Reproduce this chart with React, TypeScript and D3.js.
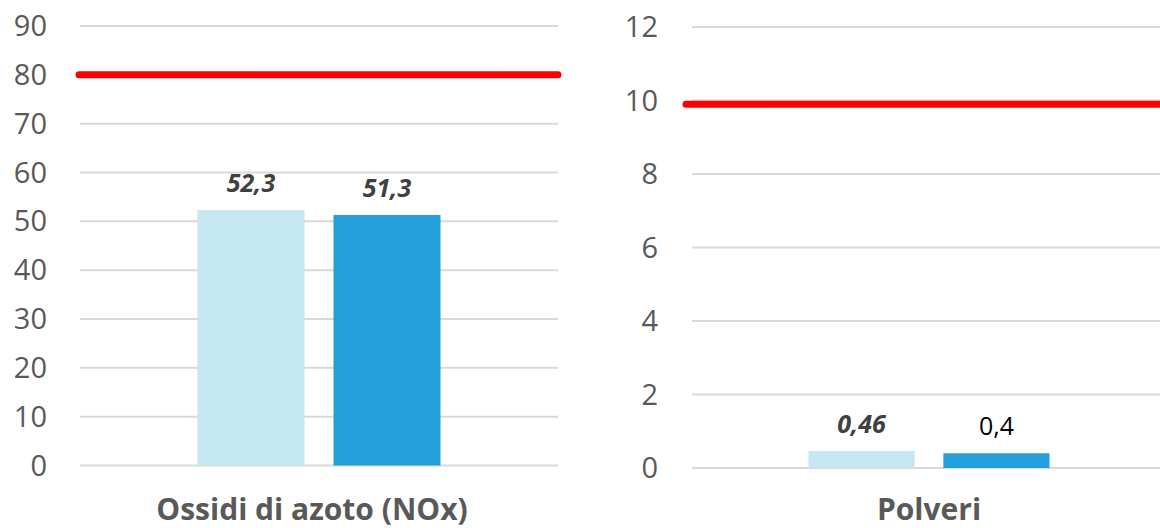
import * as d3 from "d3";

const categories = ["Ossidi di azoto (NOx)", "Polveri"];
const seriesA = [52.3, 0.46]; // light bars
const seriesB = [51.3, 0.4]; // dark bars
const labelsA = ["52,3", "0,46"];
const labelsB = ["51,3", "0,4"];
const limits = [80, 9.9]; // red limit lines
const yMax = [90, 12];
const yStep = [10, 2];

const font = "'Open Sans', 'Noto Sans', sans-serif";
const gridColor = "#d9d9d9";
const textColor = "#595959";

type PanelProps = {
  i: number;
  x0: number;
  x1: number;
  yBottom: number;
  yTop: number;
  redX0: number;
  redX1: number;
  labelX: number;
  boldB: boolean;
};

function Panel({ i, x0, x1, yBottom, yTop, redX0, redX1, labelX, boldB }: PanelProps) {
  const y = d3.scaleLinear().domain([0, yMax[i]]).range([yBottom, yTop]);
  const ticks = d3.range(0, yMax[i] + yStep[i] / 2, yStep[i]);
  const band = d3.scaleBand().domain([categories[i]]).range([x0, x1]);
  const inner = d3
    .scaleBand()
    .domain(["a", "b"])
    .range([0, band.bandwidth()])
    .paddingInner(0.213)
    .paddingOuter(0.864);
  const bx = band(categories[i])!;
  const bars = [
    { key: "a", v: seriesA[i], label: labelsA[i], fill: "#c5e7f2", bold: true },
    { key: "b", v: seriesB[i], label: labelsB[i], fill: "#259fdb", bold: boldB },
  ];
  return (
    <g>
      {ticks.map((t) => (
        <g key={t}>
          <line x1={x0} x2={x1} y1={y(t)} y2={y(t)} stroke={gridColor} strokeWidth={2} />
          <text
            x={labelX}
            y={y(t)}
            dy="0.35em"
            textAnchor="end"
            fontSize={29}
            fill={textColor}
          >
            {t}
          </text>
        </g>
      ))}
      {bars.map((b) => (
        <g key={b.key}>
          <rect
            x={bx + inner(b.key)!}
            y={y(b.v)}
            width={inner.bandwidth()}
            height={yBottom - y(b.v)}
            fill={b.fill}
          />
          <text
            x={bx + inner(b.key)! + inner.bandwidth() / 2}
            y={y(b.v) - 18}
            textAnchor="middle"
            fontSize={25}
            fontWeight={b.bold ? 700 : 400}
            fontStyle={b.bold ? "italic" : "normal"}
            fill={b.bold ? "#404040" : "#000"}
          >
            {b.label}
          </text>
        </g>
      ))}
      <line
        x1={redX0}
        x2={redX1}
        y1={y(limits[i])}
        y2={y(limits[i])}
        stroke="#ff0000"
        strokeWidth={7}
        strokeLinecap="round"
      />
      <text
        x={bx + band.bandwidth() / 2 - (i === 0 ? 7 : 0)}
        y={520}
        textAnchor="middle"
        fontSize={30}
        fontWeight={700}
        fill={textColor}
      >
        {categories[i]}
      </text>
    </g>
  );
}

export default function App() {
  return (
    <svg
      width={1160}
      height={528}
      style={{ position: "absolute", left: 0, top: 0, fontFamily: font }}
    >
      <rect width={1160} height={528} fill="#fff" />
      <Panel i={0} x0={80} x1={558} yBottom={465.5} yTop={26} redX0={79} redX1={558} labelX={47} boldB={true} />
      <Panel i={1} x0={692} x1={1166} yBottom={468} yTop={27} redX0={686} redX1={1170} labelX={658} boldB={false} />
    </svg>
  );
}
